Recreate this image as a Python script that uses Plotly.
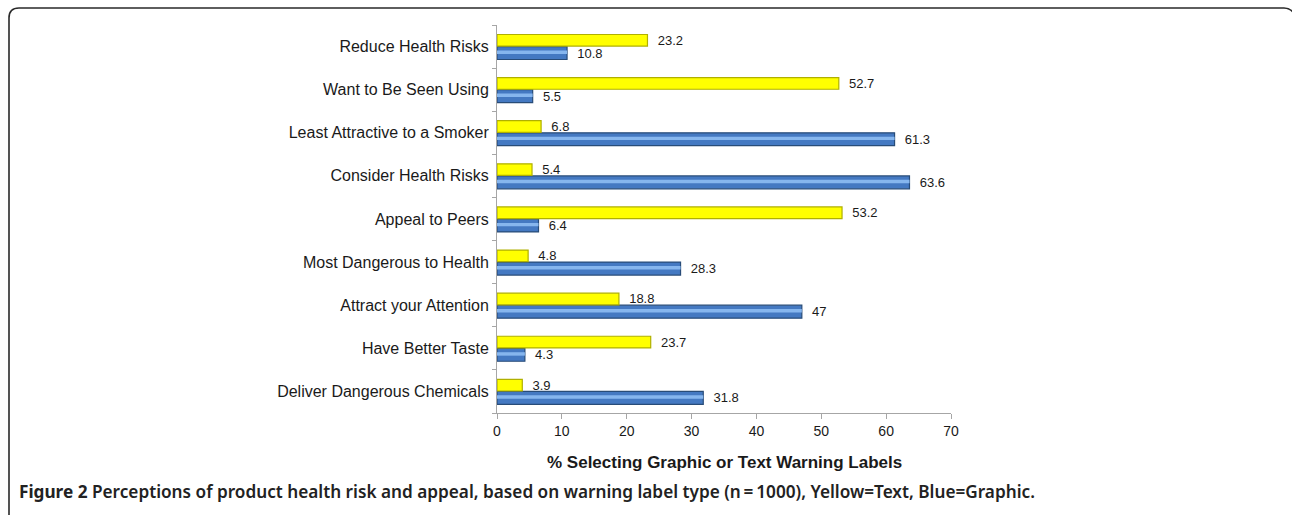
import plotly.graph_objects as go

# Categories listed top to bottom as shown
categories = [
    "Reduce Health Risks",
    "Want to Be Seen Using",
    "Least Attractive to a Smoker",
    "Consider Health Risks",
    "Appeal to Peers",
    "Most Dangerous to Health",
    "Attract your Attention",
    "Have Better Taste",
    "Deliver Dangerous Chemicals",
]
text_pct = [23.2, 52.7, 6.8, 5.4, 53.2, 4.8, 18.8, 23.7, 3.9]
graphic_pct = [10.8, 5.5, 61.3, 63.6, 6.4, 28.3, 47, 4.3, 31.8]
x_ticks = [0, 10, 20, 30, 40, 50, 60, 70]

W, H = 1292, 515
L, R, T, B = 497, 951, 25, 413  # plot area in pixels


def px(x):
    return (x - L) / (R - L)


def py(y):
    return (B - y) / (B - T)


label_font = dict(family="Liberation Sans, Arial", size=13, color="#1a1a1a")

fig = go.Figure()
# Graphic (blue) bar sits just below each category centre
fig.add_trace(go.Bar(
    y=categories, x=graphic_pct, orientation="h", name="Graphic",
    offset=-0.30, width=0.30,
    marker=dict(color="#4479c2", line=dict(color="#284c78", width=1.2)),
    text=[f"{v:g}" for v in graphic_pct], texttemplate="  %{text}",
    textposition="outside", constraintext="none", cliponaxis=False,
    textfont=label_font, hoverinfo="x+y",
))
# light sheen along the blue bars
fig.add_trace(go.Bar(
    y=categories, x=graphic_pct, orientation="h", name="Graphic sheen",
    offset=-0.17, width=0.08,
    marker=dict(color="#86b6ee", line=dict(width=0)),
    hoverinfo="skip",
))
# Text (yellow) bar sits just above each category centre
fig.add_trace(go.Bar(
    y=categories, x=text_pct, orientation="h", name="Text",
    offset=0.01, width=0.27,
    marker=dict(color="#ffff00", line=dict(color="#b0b000", width=1.2)),
    text=[f"{v:g}" for v in text_pct], texttemplate="  %{text}",
    textposition="outside", constraintext="none", cliponaxis=False,
    textfont=label_font, hoverinfo="x+y",
))

# Rounded frame around the figure
frame = (
    f"M {px(9)},{py(530)} L {px(9)},{py(18)} "
    f"Q {px(9)},{py(8)} {px(19)},{py(8)} "
    f"L {px(1284)},{py(8)} Q {px(1291)},{py(8)} {px(1294)},{py(14)} "
    f"L {px(1296)},{py(20)}"
)

fig.update_layout(
    width=W, height=H,
    margin=dict(l=L, r=W - R, t=T, b=H - B),
    paper_bgcolor="white", plot_bgcolor="white",
    barmode="overlay",
    showlegend=False,
    font=dict(family="Liberation Sans, Arial", color="#1a1a1a"),
    xaxis=dict(
        range=[0, 70], tickvals=x_ticks, ticktext=[str(t) for t in x_ticks],
        showgrid=False, zeroline=False,
        showline=True, linecolor="#a6a6a6", linewidth=1,
        ticks="outside", ticklen=5, tickcolor="#a6a6a6",
        tickfont=dict(size=14, color="#1a1a1a"),
    ),
    yaxis=dict(
        categoryorder="array", categoryarray=categories[::-1],
        range=[-0.5, 8.5],
        showgrid=False, zeroline=False,
        showline=True, linecolor="#a6a6a6", linewidth=1,
        ticks="outside", ticklen=4, tickcolor="#a6a6a6", tickson="boundaries",
        ticklabelstandoff=4,
        tickfont=dict(size=16, color="#1a1a1a"),
    ),
    shapes=[dict(type="path", path=frame, xref="paper", yref="paper",
                 line=dict(color="#2a2a2a", width=1.6), layer="above")],
    annotations=[
        dict(text="<b>% Selecting Graphic or Text Warning Labels</b>",
             x=0.5, y=py(462), xref="paper", yref="paper",
             showarrow=False, font=dict(size=17, color="#1a1a1a"),
             xanchor="center", yanchor="middle"),
        dict(text="<b>Figure 2</b> Perceptions of product health risk and appeal, "
                  "based on warning label type (n\u2009=\u20091000), Yellow=Text, Blue=Graphic.",
             x=px(17), y=py(491), xref="paper", yref="paper",
             showarrow=False, xanchor="left", yanchor="middle",
             font=dict(family="Noto Sans", size=17.2, weight=600, color="#222222")),
    ],
)

fig.write_html("out.html")
